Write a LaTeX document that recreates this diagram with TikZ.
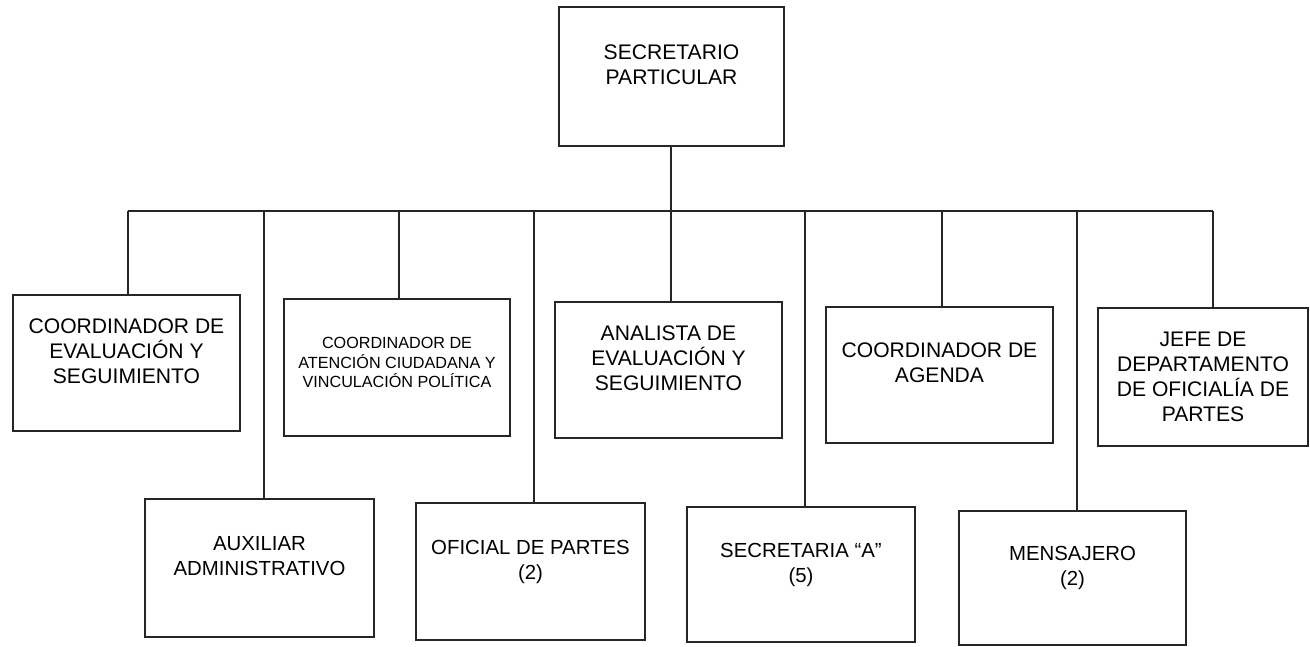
\documentclass[tikz,border=0pt]{standalone}
\usepackage{fontspec}
\setmainfont{Liberation Sans}
\usetikzlibrary{positioning}

\begin{document}
\begin{tikzpicture}[black!85, line width=0.35pt,
    puesto/.style = {draw, line width=0.5pt, text=black, align=center, inner sep=1pt,
                     minimum width=2.27cm, minimum height=1.36cm, text depth=2.4mm,
                     font=\fontsize{6}{7.1}\selectfont},
    abajo/.style = {puesto, font=\fontsize{5.8}{7.1}\selectfont}]
  \useasboundingbox (0,0) rectangle (13.1,-6.47);

  \node[puesto, minimum width=2.25cm, minimum height=1.39cm] (sp) at (6.715,-0.765) {SECRETARIO\\PARTICULAR};

  \node[puesto] (ceval) at (1.265,-3.63) {COORDINADOR DE\\EVALUACIÓN Y\\SEGUIMIENTO};
  \node[puesto, minimum width=2.26cm, minimum height=1.37cm, text depth=1mm,
        font=\fontsize{4.6}{5.5}\selectfont] (caten) at (3.97,-3.675)
        {COORDINADOR DE\\ATENCIÓN CIUDADANA Y\\VINCULACIÓN POLÍTICA};
  \node[puesto] (aeval) at (6.685,-3.70) {ANALISTA DE\\EVALUACIÓN Y\\SEGUIMIENTO};
  \node[puesto] (cagenda) at (9.395,-3.75) {COORDINADOR DE\\AGENDA};
  \node[puesto, minimum width=2.10cm, minimum height=1.38cm, text depth=0pt] (jefe) at (12.03,-3.77)
        {JEFE DE\\DEPARTAMENTO\\DE OFICIALÍA DE\\PARTES};

  \node[abajo, minimum width=2.29cm, minimum height=1.38cm] (aux) at (2.595,-5.68) {AUXILIAR\\ADMINISTRATIVO};
  \node[abajo, minimum width=2.29cm, minimum height=1.37cm] (ofpartes) at (5.305,-5.715) {OFICIAL DE PARTES\\(2)};
  \node[abajo, minimum width=2.28cm, minimum height=1.35cm] (secre) at (8.01,-5.745) {SECRETARIA “A”\\(5)};
  \node[abajo, minimum width=2.27cm, minimum height=1.34cm] (mensa) at (10.725,-5.78) {MENSAJERO\\(2)};

  \coordinate (b1) at (1.28,-2.11);
  \coordinate (b2) at (2.64,-2.11);
  \coordinate (b3) at (3.99,-2.11);
  \coordinate (b4) at (5.34,-2.11);
  \coordinate (b5) at (6.71,-2.11);
  \coordinate (b6) at (8.05,-2.11);
  \coordinate (b7) at (9.42,-2.11);
  \coordinate (b8) at (10.77,-2.11);
  \coordinate (b9) at (12.13,-2.11);

  \draw (b5 |- sp.south) -- (b5);
  \draw (b1) -- (b9);

  \draw
  (b1) -- (b1 |- ceval.north)
  (b3) -- (b3 |- caten.north)
  (b5) -- (b5 |- aeval.north)
  (b7) -- (b7 |- cagenda.north)
  (b9) -- (b9 |- jefe.north);

  \draw
  (b2) -- (b2 |- aux.north)
  (b4) -- (b4 |- ofpartes.north)
  (b6) -- (b6 |- secre.north)
  (b8) -- (b8 |- mensa.north);
\end{tikzpicture}
\end{document}
